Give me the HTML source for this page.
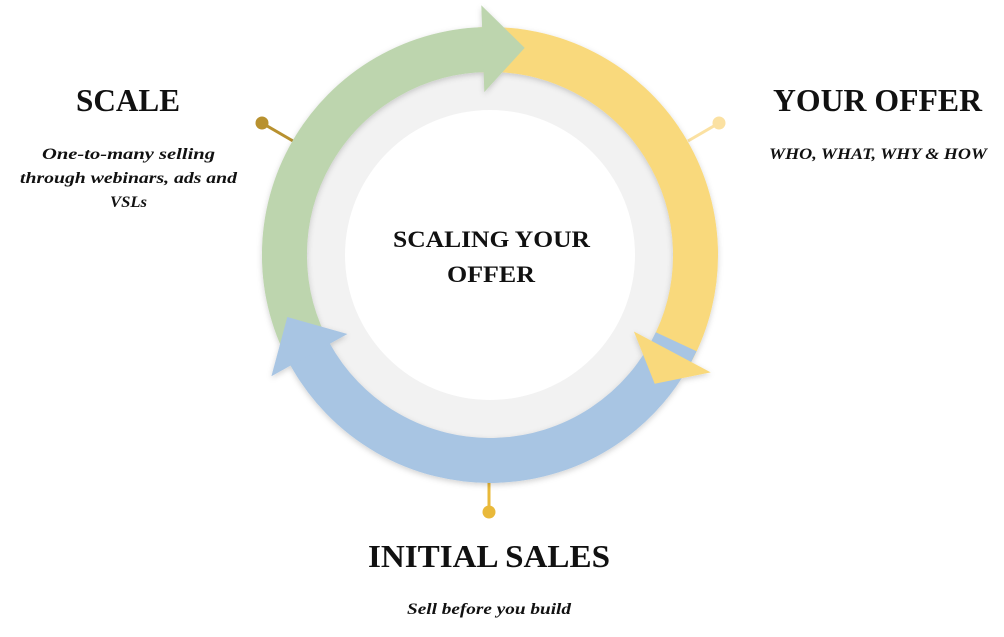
<!DOCTYPE html>
<html><head><meta charset="utf-8"><style>
html,body{margin:0;padding:0;background:#fff;}
body{width:1004px;height:632px;overflow:hidden;}
</style></head><body>
<svg width="1004" height="632" viewBox="0 0 1004 632" xmlns="http://www.w3.org/2000/svg">
<defs>
<filter id="sh" x="-20%" y="-20%" width="140%" height="140%">
<feDropShadow dx="0" dy="2" stdDeviation="3" flood-color="#000" flood-opacity="0.18"/>
</filter>
<filter id="sh2" x="-20%" y="-20%" width="140%" height="140%">
<feDropShadow dx="0" dy="1" stdDeviation="2.5" flood-color="#000" flood-opacity="0.15"/>
</filter>
</defs>
<line x1="262" y1="123" x2="293" y2="141" stroke="#b8912f" stroke-width="3"/>
<circle cx="262" cy="123" r="6.5" fill="#b8912f"/>
<line x1="719" y1="123" x2="688" y2="141" stroke="#fbe1a2" stroke-width="3"/>
<circle cx="719" cy="123" r="6.5" fill="#fbe1a2"/>
<line x1="489" y1="480" x2="489" y2="510" stroke="#e9b93a" stroke-width="3"/>
<circle cx="489" cy="512" r="6.5" fill="#e9b93a"/>
<circle cx="490" cy="255" r="184" fill="#f2f2f2" filter="url(#sh2)"/>
<circle cx="490" cy="255" r="145" fill="#ffffff"/>
<g filter="url(#sh)">
<path d="M479.2 49.8 A205.5 205.5 0 0 1 670.6 353.1" fill="none" stroke="#f9d97b" stroke-width="45"/>
<path d="M312.0 357.8 A205.5 205.5 0 0 1 490 49.5" fill="none" stroke="#bdd5ae" stroke-width="45"/>
<path d="M676.2 341.8 A205.5 205.5 0 0 1 309.4 353.1" fill="none" stroke="#a8c5e3" stroke-width="45"/>
<polygon points="484.3,92.1 481.3,5.2 524.7,47.9" fill="#bdd5ae"/>
<polygon points="633.9,331.5 710.7,372.4 654.7,383.7" fill="#f9d97b"/>
<polygon points="347.4,334.0 271.4,376.2 287.3,317.0" fill="#a8c5e3"/>
</g>
<g font-family="'Liberation Serif', serif" fill="#111">
<text x="393" y="247" font-weight="bold" font-size="23" textLength="197" lengthAdjust="spacingAndGlyphs">SCALING YOUR</text>
<text x="447" y="282" font-weight="bold" font-size="23" textLength="88" lengthAdjust="spacingAndGlyphs">OFFER</text>
<text x="76" y="111" font-weight="bold" font-size="32" textLength="104" lengthAdjust="spacingAndGlyphs">SCALE</text>
<text x="773" y="111" font-weight="bold" font-size="32" textLength="209" lengthAdjust="spacingAndGlyphs">YOUR OFFER</text>
<text x="368" y="567" font-weight="bold" font-size="32" textLength="242" lengthAdjust="spacingAndGlyphs">INITIAL SALES</text>
<g font-style="italic" font-weight="bold" font-size="16">
<text x="42" y="159" textLength="173" lengthAdjust="spacingAndGlyphs">One-to-many selling</text>
<text x="20" y="183" textLength="217" lengthAdjust="spacingAndGlyphs">through webinars, ads and</text>
<text x="110" y="207" textLength="37" lengthAdjust="spacingAndGlyphs">VSLs</text>
<text x="769" y="159" textLength="218" lengthAdjust="spacingAndGlyphs">WHO, WHAT, WHY &amp; HOW</text>
<text x="407" y="614" textLength="164" lengthAdjust="spacingAndGlyphs">Sell before you build</text>
</g>
</g>
</svg>
</body></html>
